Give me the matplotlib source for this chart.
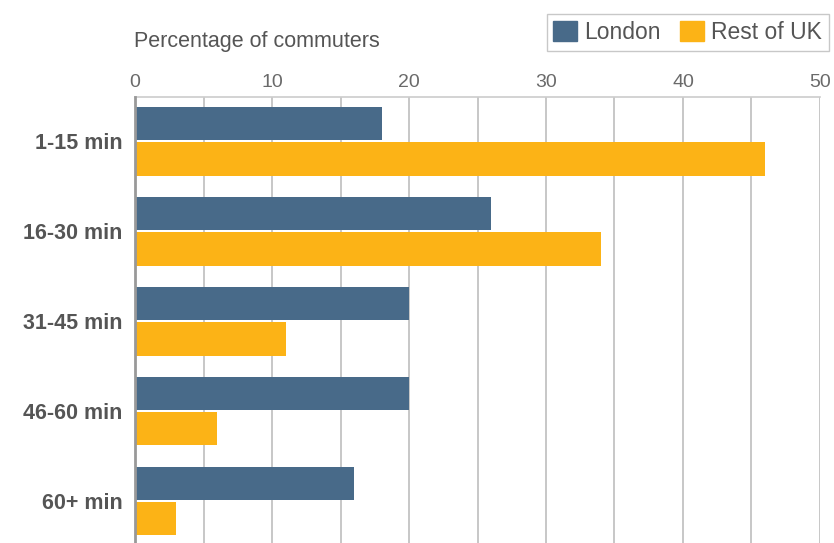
import matplotlib
matplotlib.use("Agg")
import matplotlib.pyplot as plt
import numpy as np
from matplotlib.patches import Patch

plt.rcParams['font.family'] = ['Liberation Sans', 'DejaVu Sans']

categories = ['1-15 min', '16-30 min', '31-45 min', '46-60 min', '60+ min']
london = [18, 26, 20, 20, 16]
rest_of_uk = [46, 34, 11, 6, 3]
ticks = [0, 10, 20, 30, 40, 50]

c_london = '#486a89'
c_rest = '#fcb316'

fig = plt.figure(figsize=(8.34, 5.43), dpi=100)
ax = fig.add_axes([0.1619, 0.0, 0.8213, 0.8214])

y = np.arange(len(categories))
h = 0.37
ax.barh(y - 0.195, london, height=h, color=c_london, zorder=3)
ax.barh(y + 0.2, rest_of_uk, height=h, color=c_rest, zorder=3)

ax.set_xlim(0, 50)
ax.set_ylim(4.47, -0.49)

# grid every 5
for gx in range(5, 51, 5):
    ax.axvline(gx, color='#bdbdbd', lw=1.2, zorder=1)

ax.xaxis.tick_top()
ax.set_xticks(ticks)
ax.set_xticklabels([str(t) for t in ticks], color='#6a6a6a', fontsize=14)
ax.tick_params(axis='x', length=0, pad=4)
ax.set_yticks(y)
ax.set_yticklabels(categories, fontsize=15.5, fontweight='bold', color='#555555')
ax.tick_params(axis='y', length=0, pad=9)

for s in ['right', 'bottom']:
    ax.spines[s].set_visible(False)
ax.spines['top'].set_color('#cccccc')
ax.spines['top'].set_linewidth(1.2)
ax.spines['left'].set_color('#999999')
ax.spines['left'].set_linewidth(2)
ax.spines['left'].set_zorder(4)

fig.text(134 / 834, 1 - 42 / 543, 'Percentage of commuters', fontsize=15.5,
         color='#555555', ha='left', va='center')

handles = [Patch(color=c_london, label='London'), Patch(color=c_rest, label='Rest of UK')]
leg = fig.legend(handles=handles, loc='upper right', bbox_to_anchor=(829 / 834, 1 - 14 / 543),
                 ncol=2, frameon=True, fancybox=False, fontsize=16.5, handlelength=1.05,
                 handleheight=0.95, handletextpad=0.3, columnspacing=0.85, borderpad=0.3,
                 borderaxespad=0)
leg.get_frame().set_edgecolor('#bbbbbb')
leg.get_frame().set_linewidth(1)
for t in leg.get_texts():
    t.set_color('#555555')

fig.savefig('out.png', dpi=100)
